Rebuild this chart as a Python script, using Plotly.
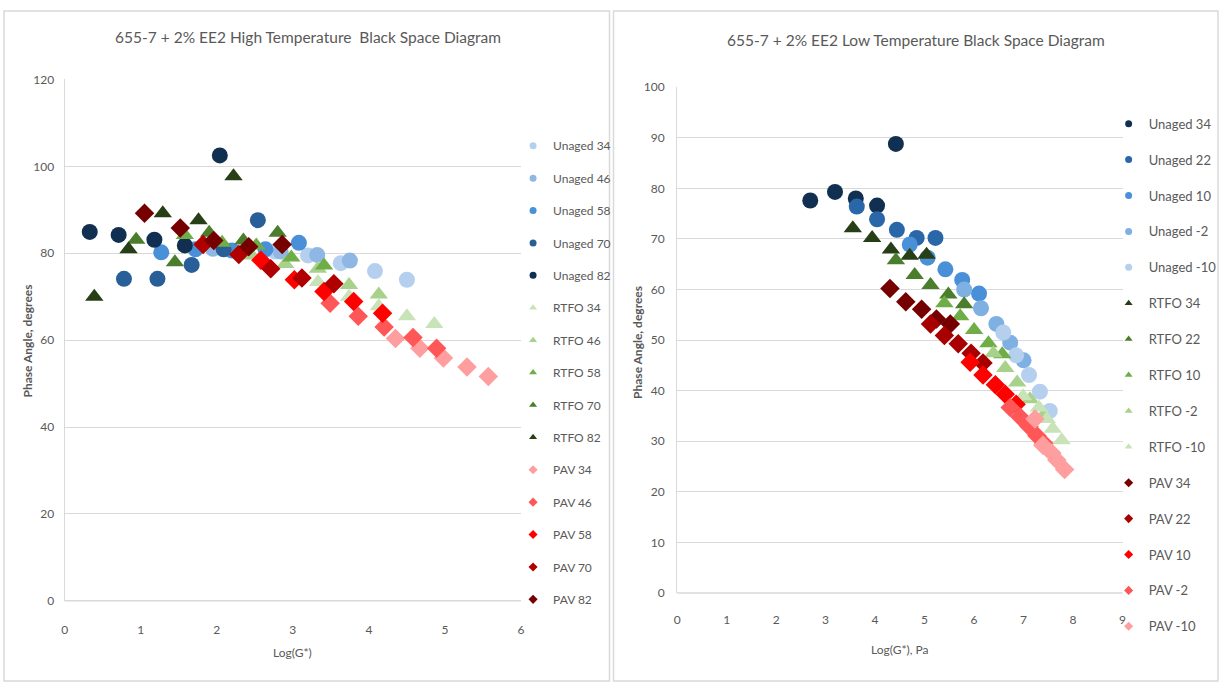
import plotly.graph_objects as go

# ---------------- data ----------------
hi_temps = [34, 46, 58, 70, 82]
hi_unaged_x = [[2.77, 3.20, 3.63, 4.08, 4.50],
               [1.95, 2.40, 2.84, 3.32, 3.75],
               [1.27, 1.72, 2.20, 2.64, 3.08],
               [0.78, 1.22, 1.67, 2.09, 2.54],
               [0.33, 0.71, 1.18, 1.58, 2.04]]
hi_unaged_y = [[80.4, 79.5, 77.7, 75.9, 73.9],
               [81.0, 80.8, 80.4, 79.6, 78.3],
               [80.2, 80.9, 80.6, 80.9, 82.4],
               [74.1, 74.1, 77.3, 80.9, 87.6],
               [84.9, 84.2, 83.1, 81.8, 102.5]]
hi_rtfo_x = [[3.33, 3.74, 4.13, 4.50, 4.86],
             [2.46, 2.90, 3.33, 3.74, 4.13],
             [1.58, 2.07, 2.52, 2.98, 3.41],
             [0.94, 1.45, 1.90, 2.35, 2.80],
             [0.39, 0.84, 1.29, 1.76, 2.22]]
hi_rtfo_y = [[73.4, 70.0, 67.8, 65.5, 63.7],
             [79.5, 77.5, 76.4, 72.7, 70.5],
             [84.2, 82.4, 81.8, 79.0, 77.2],
             [83.1, 77.9, 84.7, 82.9, 84.7],
             [70.0, 80.9, 89.2, 87.6, 97.7]]
hi_pav_x = [[4.35, 4.67, 4.98, 5.29, 5.57],
            [3.49, 3.86, 4.20, 4.58, 4.89],
            [2.58, 3.02, 3.41, 3.80, 4.18],
            [1.82, 2.29, 2.71, 3.12, 3.54],
            [1.05, 1.52, 1.96, 2.42, 2.86]]
hi_pav_y = [[60.4, 58.1, 55.9, 53.8, 51.6],
            [68.5, 65.5, 63.0, 60.6, 58.1],
            [78.4, 73.9, 71.2, 68.9, 66.2],
            [82.0, 79.7, 76.4, 74.3, 73.0],
            [89.2, 85.8, 82.9, 81.5, 82.0]]

lo_temps = [34, 22, 10, -2, -10]
lo_unaged_x = [[2.69, 3.19, 3.61, 4.04, 4.42],
               [3.63, 4.04, 4.44, 4.84, 5.22],
               [4.70, 5.06, 5.42, 5.76, 6.10],
               [5.80, 6.14, 6.45, 6.73, 7.00],
               [6.59, 6.85, 7.11, 7.33, 7.53]]
lo_unaged_y = [[77.6, 79.3, 78.0, 76.6, 88.8],
               [76.4, 73.9, 71.8, 70.2, 70.2],
               [68.9, 66.3, 64.0, 61.9, 59.2],
               [60.0, 56.3, 53.2, 49.5, 46.0],
               [51.5, 47.0, 43.1, 39.8, 36.0]]
lo_rtfo_x = [[3.55, 3.94, 4.32, 4.70, 5.04],
             [4.42, 4.80, 5.12, 5.48, 5.80],
             [5.40, 5.72, 6.00, 6.29, 6.57],
             [6.39, 6.63, 6.87, 7.13, 7.39],
             [6.99, 7.31, 7.47, 7.59, 7.77]]
lo_rtfo_y = [[72.1, 70.2, 67.9, 66.7, 66.9],
             [65.8, 62.9, 60.9, 59.0, 57.1],
             [57.3, 54.7, 52.0, 49.4, 47.2],
             [47.4, 44.5, 41.6, 38.3, 35.0],
             [38.9, 36.7, 34.4, 32.5, 30.2]]
lo_pav_x = [[4.30, 4.62, 4.94, 5.24, 5.52],
            [5.12, 5.40, 5.68, 5.94, 6.18],
            [5.92, 6.18, 6.43, 6.63, 6.85],
            [6.73, 6.93, 7.11, 7.27, 7.41],
            [7.23, 7.39, 7.57, 7.67, 7.83]]
lo_pav_y = [[60.2, 57.6, 56.1, 54.2, 53.2],
            [53.2, 50.9, 49.3, 47.4, 45.5],
            [45.6, 43.1, 41.2, 39.3, 37.3],
            [36.7, 34.8, 32.9, 31.1, 29.6],
            [34.4, 29.2, 27.7, 26.3, 24.4]]

# ---------------- styles ----------------
BLUES_LIGHT_TO_DARK = ['#b5d0ee', '#8fb7e3', '#4a90d8', '#285f98', '#112f50']
GREENS_LIGHT_TO_DARK = ['#c9e3b8', '#a8d18b', '#6fae46', '#4a7d2c', '#273f16']
REDS_LIGHT_TO_DARK = ['#ff9e9e', '#ff5757', '#ff0000', '#b00000', '#760000']
BLUES_DARK_TO_LIGHT = ['#112f50', '#2a67a8', '#4a90d8', '#7fb0e2', '#b5d0ee']
GREENS_DARK_TO_LIGHT = ['#273f16', '#4a7d2c', '#6fae46', '#a8d18b', '#c9e3b8']
REDS_DARK_TO_LIGHT = ['#760000', '#a80000', '#ff0000', '#ff5757', '#ff9e9e']

FONT = "Lato, 'Open Sans', sans-serif"
TXT = '#595959'
GRID = '#d9d9d9'
W, H = 1224, 690

fig = go.Figure()


def add_group(name, temps, xs, ys, colors, symbol, size, xa, ya, legend, group_index):
    for i, t in enumerate(temps):
        label = f"{name} {t}"
        fig.add_trace(go.Scatter(
            x=xs[i], y=ys[i], mode='markers', name=label, showlegend=False,
            marker=dict(symbol=symbol, size=size, color=colors[i], line=dict(width=0)),
            xaxis=xa, yaxis=ya, hoverinfo='x+y+name'))
        # legend-only entry with small symbol
        fig.add_trace(go.Scatter(
            x=[None], y=[None], mode='markers', name=label, legend=legend,
            legendgroup=f"{legend}_{group_index}_{i}",
            marker=dict(symbol=symbol, size=7, color=colors[i], line=dict(width=0)),
            xaxis=xa, yaxis=ya))


add_group('Unaged', hi_temps, hi_unaged_x, hi_unaged_y, BLUES_LIGHT_TO_DARK, 'circle', 16, 'x', 'y', 'legend', 0)
add_group('RTFO', hi_temps, hi_rtfo_x, hi_rtfo_y, GREENS_LIGHT_TO_DARK, 'triangle-up', 16, 'x', 'y', 'legend', 1)
add_group('PAV', hi_temps, hi_pav_x, hi_pav_y, REDS_LIGHT_TO_DARK, 'diamond', 15, 'x', 'y', 'legend', 2)

add_group('Unaged', lo_temps, lo_unaged_x, lo_unaged_y, BLUES_DARK_TO_LIGHT, 'circle', 16, 'x2', 'y2', 'legend2', 0)
add_group('RTFO', lo_temps, lo_rtfo_x, lo_rtfo_y, GREENS_DARK_TO_LIGHT, 'triangle-up', 16, 'x2', 'y2', 'legend2', 1)
add_group('PAV', lo_temps, lo_pav_x, lo_pav_y, REDS_DARK_TO_LIGHT, 'diamond', 15, 'x2', 'y2', 'legend2', 2)


def px(v):
    return v / W


def py(v):
    return 1 - v / H


tickfont = dict(family=FONT, size=12, color=TXT)
common = dict(zeroline=False, tickfont=tickfont, ticks='outside',
              tickcolor='rgba(0,0,0,0)', fixedrange=True)

fig.update_layout(
    width=W, height=H, margin=dict(l=0, r=0, t=0, b=0),
    paper_bgcolor='white', plot_bgcolor='white', showlegend=True,
    xaxis=dict(domain=[px(62), px(521)], range=[0, 6], dtick=1, anchor='y',
               ticklen=18, showgrid=False, showline=False, **common),
    yaxis=dict(domain=[py(606), py(73)], range=[0, 120], dtick=20, anchor='x',
               ticklen=7, showgrid=True, gridcolor=GRID, gridwidth=1,
               showline=True, linecolor=GRID, **common),
    xaxis2=dict(domain=[px(678), px(1126)], range=[0, 9], dtick=1, anchor='y2',
                ticklen=16, showgrid=False, showline=False, **common),
    yaxis2=dict(domain=[py(598), py(81)], range=[0, 100], dtick=10, anchor='x2',
                ticklen=9, showgrid=True, gridcolor=GRID, gridwidth=1,
                showline=True, linecolor=GRID, **common),
    legend=dict(x=px(513), y=py(126), xanchor='left', yanchor='top',
                font=dict(family=FONT, size=12, color=TXT), tracegroupgap=13.4,
                traceorder='grouped', bgcolor='rgba(0,0,0,0)', itemclick=False, itemdoubleclick=False),
    legend2=dict(x=px(1112), y=py(103), xanchor='left', yanchor='top',
                 font=dict(family=FONT, size=13, color=TXT), tracegroupgap=16,
                 traceorder='grouped', bgcolor='rgba(0,0,0,0)', itemclick=False, itemdoubleclick=False),
)

annotations = [
    dict(text='655-7 + 2% EE2 High Temperature  Black Space Diagram', x=px(307), y=py(30),
         font=dict(family=FONT, size=15.5, color=TXT)),
    dict(text='655-7 + 2% EE2 Low Temperature Black Space Diagram', x=px(918), y=py(33),
         font=dict(family=FONT, size=15.5, color=TXT)),
    dict(text='Log(G*)', x=px(291), y=py(659), font=dict(family=FONT, size=12, color=TXT)),
    dict(text='Log(G*), Pa', x=px(902), y=py(656), font=dict(family=FONT, size=12, color=TXT)),
    dict(text='<b>Phase Angle, degrees</b>', x=px(25), y=py(340), textangle=-90,
         font=dict(family=FONT, size=12, color=TXT)),
    dict(text='<b>Phase Angle, degrees</b>', x=px(638), y=py(342), textangle=-90,
         font=dict(family=FONT, size=12, color=TXT)),
]
for a in annotations:
    a.update(xref='paper', yref='paper', showarrow=False, xanchor='center', yanchor='middle')
fig.update_layout(annotations=annotations)

shapes = [
    dict(type='rect', x0=px(1), x1=px(610), y0=py(688), y1=py(3)),
    dict(type='rect', x0=px(614), x1=px(1222), y0=py(688), y1=py(3)),
    dict(type='line', x0=px(62), x1=px(521), y0=py(606), y1=py(606)),
    dict(type='line', x0=px(678), x1=px(1126), y0=py(598), y1=py(598)),
]
for s in shapes:
    s.update(xref='paper', yref='paper', line=dict(color=GRID, width=1.5), layer='below')
fig.update_layout(shapes=shapes)

fig.write_html("out.html")
